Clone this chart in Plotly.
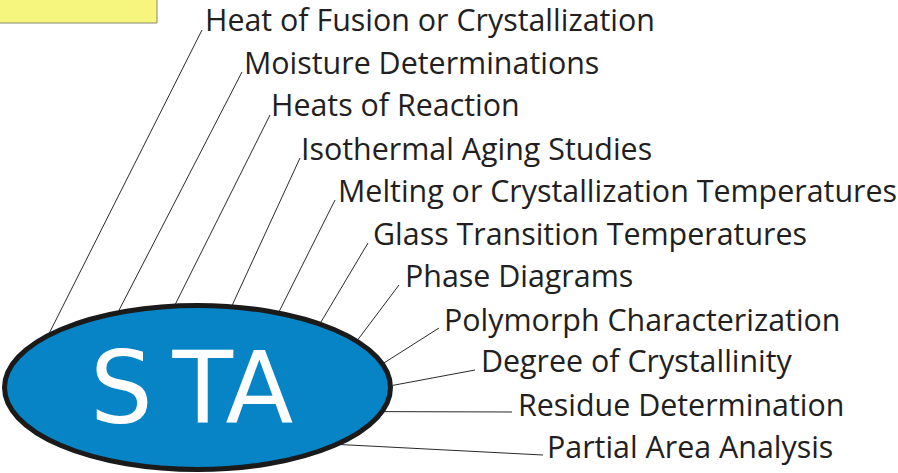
import math
import plotly.graph_objects as go

# ---- content ----
center_label = "STA"
applications = [
    "Heat of Fusion or Crystallization",
    "Moisture Determinations",
    "Heats of Reaction",
    "Isothermal Aging Studies",
    "Melting or Crystallization Temperatures",
    "Glass Transition Temperatures",
    "Phase Diagrams",
    "Polymorph Characterization",
    "Degree of Crystallinity",
    "Residue Determination",
    "Partial Area Analysis",
]

# ---- layout (pixel coordinates, y downward) ----
W, H = 898, 473
text_x = [203, 242, 269, 299, 336, 371, 403, 442, 479, 516, 545]
text_y = [19, 62, 104, 148, 190, 233, 275, 319, 360, 404, 446]
lead_x = [202, 242, 270, 300, 335, 368, 399, 439, 475, 512, 543]
lead_y = [30, 72, 115, 158, 200, 243, 285, 328, 370, 412, 455]
lead_angle = [139.4, 113.8, 96.5, 79.7, 65.2, 50.8, 34.7, 17.0, 1.4, -16.7, -42.8]

ecx, ecy, ea, eb = 197.5, 387.5, 193.0, 82.0

fig = go.Figure()

# leader lines
xs, ys = [], []
for sx, sy, ang in zip(lead_x, lead_y, lead_angle):
    t = math.radians(ang)
    ex = ecx + (ea + 2) * math.cos(t)
    ey = ecy - (eb + 2) * math.sin(t)
    xs += [sx, ex, None]
    ys += [sy, ey, None]
fig.add_trace(go.Scatter(x=xs, y=ys, mode="lines",
                         line=dict(color="#2a2a2a", width=1),
                         hoverinfo="skip", showlegend=False))

shapes = [
    dict(type="rect", xref="x", yref="y", x0=-2, y0=-2, x1=157, y1=23,
         fillcolor="#F6F67E", line=dict(color="#8a8a6a", width=1), layer="below"),
    dict(type="circle", xref="x", yref="y",
         x0=ecx - ea, x1=ecx + ea, y0=ecy - eb, y1=ecy + eb,
         fillcolor="#0784C6", line=dict(color="#1a1a1a", width=5), layer="above"),
]

annotations = []
for lab, x, y in zip(applications, text_x, text_y):
    annotations.append(dict(x=x, y=y, xref="x", yref="y", text=lab, showarrow=False,
                            xanchor="left", yanchor="middle",
                            font=dict(family="Open Sans, sans-serif", size=30.4, color="#231F20")))
annotations.append(dict(x=191, y=388, xref="x", yref="y", text="S\u2009TA", showarrow=False,
                        xanchor="center", yanchor="middle",
                        font=dict(family="DejaVu Sans, sans-serif", size=99, color="white")))

fig.update_layout(
    width=W, height=H,
    margin=dict(l=0, r=0, t=0, b=0),
    paper_bgcolor="white", plot_bgcolor="white",
    xaxis=dict(range=[0, W], visible=False, fixedrange=True),
    yaxis=dict(range=[H, 0], visible=False, fixedrange=True),
    shapes=shapes, annotations=annotations, showlegend=False,
)
fig.write_html("out.html", config={"displayModeBar": False},
               post_script="document.body.style.margin='0';document.body.style.overflow='hidden';")
